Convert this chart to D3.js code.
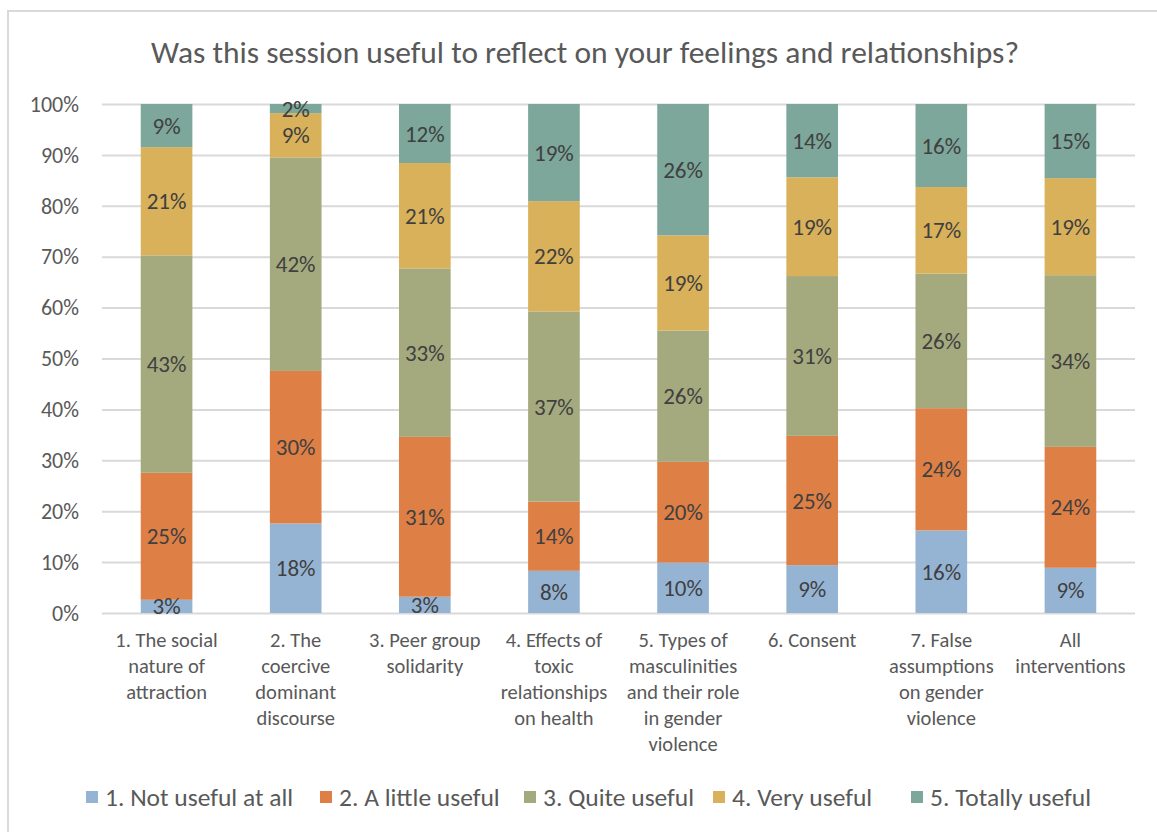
<!DOCTYPE html>
<html lang="en">
<head>
<meta charset="UTF-8">
<title>Was this session useful</title>
<style>
    body { margin: 0; background: #fff; }
    svg { display: block; font-family: Carlito, Calibri, Lato, sans-serif; }
    .grid line { stroke: #d9d9d9; stroke-width: 2; }
    .grid path { display: none; }
    .rotulo { fill: #404040; font-size: 23px; text-anchor: middle; }
    .cat { fill: #595959; font-size: 20.5px; text-anchor: middle; }
    .leg { fill: #595959; font-size: 25.5px; }
</style>
<script src="https://d3js.org/d3.v7.min.js"></script>
</head>
<body>
<svg id="grafico" width="1157" height="832"></svg>
<script>
// categorias (linhas quebradas como no original)
const categorias = [
    ['1. The social', 'nature of', 'attraction'],
    ['2. The', 'coercive', 'dominant', 'discourse'],
    ['3. Peer group', 'solidarity'],
    ['4. Effects of', 'toxic', 'relationships', 'on health'],
    ['5. Types of', 'masculinities', 'and their role', 'in gender', 'violence'],
    ['6. Consent'],
    ['7. False', 'assumptions', 'on gender', 'violence'],
    ['All', 'interventions']
];
const series = ['1. Not useful at all', '2. A little useful', '3. Quite useful', '4. Very useful', '5. Totally useful'];
const notUseful     = [2.6, 17.6, 3.2, 8.3, 9.9, 9.4, 16.2, 8.9];
const littleUseful  = [25.0, 30.0, 31.4, 13.6, 19.8, 25.4, 24.0, 23.8];
const quiteUseful   = [42.8, 42.0, 33.1, 37.4, 25.8, 31.4, 26.4, 33.8];
const veryUseful    = [21.3, 8.7, 20.7, 21.7, 18.7, 19.4, 17.0, 19.1];
const totallyUseful = [8.5, 1.8, 11.6, 19.1, 25.8, 14.4, 16.3, 14.6];
const yTicks = [0, 0.1, 0.2, 0.3, 0.4, 0.5, 0.6, 0.7, 0.8, 0.9, 1];
const cores = ['#95b4d4', '#de7f45', '#a4aa7e', '#d9b15a', '#7da79a'];

const svg = d3.select('#grafico');

// moldura do grafico
svg.append('rect')
    .attr('x', 8).attr('y', 11).attr('width', 1160).attr('height', 830)
    .attr('fill', 'none').attr('stroke', '#d9d9d9').attr('stroke-width', 2);

svg.append('text')
    .attr('x', 585).attr('y', 52)
    .attr('dy', '0.35em')
    .attr('text-anchor', 'middle')
    .style('font-size', '31.5px').style('fill', '#595959')
    .text('Was this session useful to reflect on your feelings and relationships?');

const margem = { left: 102, right: 1135, top: 104, bottom: 613 };

const linhas = categorias.map((c, i) => ({
    cat: i,
    s0: notUseful[i], s1: littleUseful[i], s2: quiteUseful[i], s3: veryUseful[i], s4: totallyUseful[i]
}));
const chaves = ['s0', 's1', 's2', 's3', 's4'];
const pilha = d3.stack().keys(chaves).offset(d3.stackOffsetExpand)(linhas);

const fnX = d3.scaleBand()
    .domain(d3.range(categorias.length))
    .range([margem.left, margem.right])
    .paddingInner(0.6)
    .paddingOuter(0.3);

const fnY = d3.scaleLinear()
    .domain([0, 1])
    .range([margem.bottom, margem.top]);

// grade
svg.append('g')
    .attr('class', 'grid')
    .attr('transform', `translate(${margem.left},0)`)
    .call(d3.axisLeft(fnY).tickValues(yTicks).tickSize(-(margem.right - margem.left)).tickFormat(''));

svg.append('g')
    .selectAll('text')
    .data(yTicks)
    .enter()
    .append('text')
    .attr('x', 79)
    .attr('y', d => fnY(d))
    .attr('dy', '0.35em')
    .attr('text-anchor', 'end')
    .style('fill', '#595959').style('font-size', '22px')
    .text(d3.format('.0%'));

// barras
const grupos = svg.selectAll('.serie')
    .data(pilha)
    .enter()
    .append('g')
    .classed('serie', true)
    .attr('fill', (d, i) => cores[i]);

grupos.selectAll('rect')
    .data(d => d)
    .enter()
    .append('rect')
    .attr('x', d => fnX(d.data.cat))
    .attr('width', fnX.bandwidth())
    .attr('y', d => fnY(d[1]))
    .attr('height', d => fnY(d[0]) - fnY(d[1]));

// rotulos
pilha.forEach((s, k) => {
    svg.append('g').selectAll('text')
        .data(s)
        .enter()
        .append('text')
        .classed('rotulo', true)
        .attr('x', d => fnX(d.data.cat) + fnX.bandwidth() / 2)
        .attr('y', d => (fnY(d[0]) + fnY(d[1])) / 2)
        .attr('dy', '0.35em')
        .text(d => Math.round(d.data[s.key]) + '%');
});

// categorias
const cats = svg.append('g').selectAll('text')
    .data(categorias)
    .enter()
    .append('text')
    .classed('cat', true)
    .attr('x', (d, i) => fnX(i) + fnX.bandwidth() / 2)
    .attr('y', 640);
cats.selectAll('tspan')
    .data(d => d)
    .enter()
    .append('tspan')
    .attr('x', function () { return d3.select(this.parentNode).attr('x'); })
    .attr('dy', (d, j) => j === 0 ? '0.35em' : 26)
    .text(d => d);

// legenda
const legX = [86, 320, 524, 713, 911];
const leg = svg.append('g').selectAll('g')
    .data(series)
    .enter()
    .append('g')
    .attr('transform', (d, i) => `translate(${legX[i]},791)`);
leg.append('rect')
    .attr('width', 12).attr('height', 12)
    .attr('fill', (d, i) => cores[i]);
leg.append('text')
    .classed('leg', true)
    .attr('x', 19).attr('y', 6).attr('dy', '0.35em')
    .text(d => d);
</script>
</body>
</html>
